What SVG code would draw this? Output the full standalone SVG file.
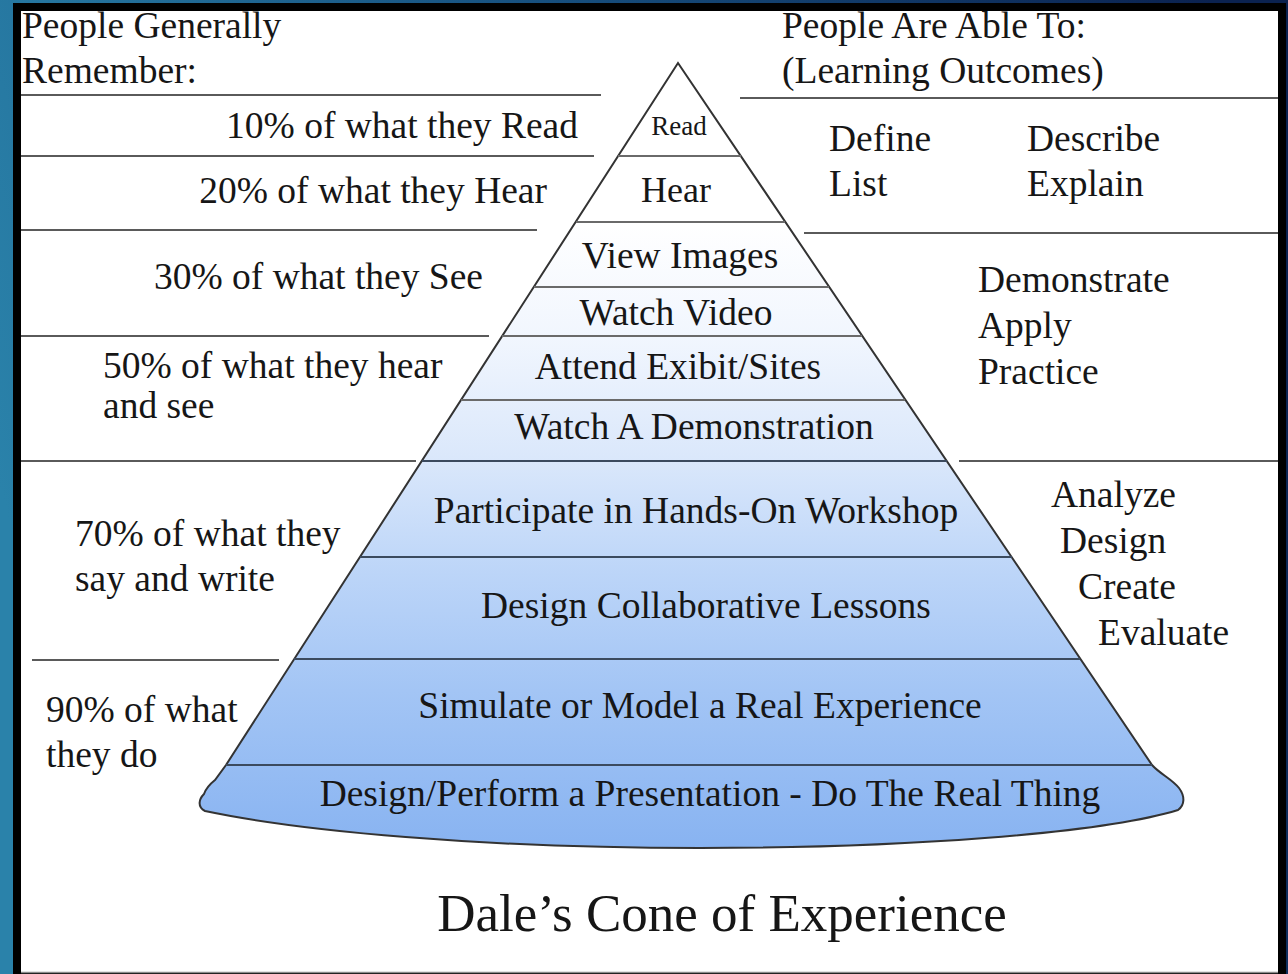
<svg xmlns="http://www.w3.org/2000/svg" width="1288" height="974" viewBox="0 0 1288 974">
  <defs>
    <linearGradient id="bg" x1="0" y1="0.5" x2="1" y2="0.3">
      <stop offset="0" stop-color="#2a82aa"/>
      <stop offset="0.5" stop-color="#17507f"/>
      <stop offset="1" stop-color="#0b2250"/>
    </linearGradient>
    <linearGradient id="cone" x1="0" y1="63" x2="0" y2="848" gradientUnits="userSpaceOnUse">
      <stop offset="0" stop-color="#ffffff"/>
      <stop offset="0.2" stop-color="#ffffff"/>
      <stop offset="0.35" stop-color="#f1f6fe"/>
      <stop offset="0.5" stop-color="#dbe8fb"/>
      <stop offset="0.65" stop-color="#bcd5f8"/>
      <stop offset="0.8" stop-color="#a3c5f5"/>
      <stop offset="1" stop-color="#88b3f1"/>
    </linearGradient>
  </defs>
  <style>
    text { font-family: "Liberation Serif", "Times New Roman", serif; font-size: 37.5px; fill: #161616; }
    .mid { text-anchor: middle; }
    .end { text-anchor: end; }
    .rule { stroke: #5a5a5a; stroke-width: 2.2; fill: none; }
    .div-light { stroke: #6a6a6a; stroke-width: 2; }
    .div-dark { stroke: #3b4a5e; stroke-width: 2.2; }
  </style>

  <!-- background and frame -->
  <rect x="0" y="0" width="1288" height="974" fill="url(#bg)"/>
  <rect x="13" y="3" width="1273" height="971" fill="#000000"/>
  <rect x="21" y="11" width="1257" height="961" fill="#ffffff"/>
  <line x1="21" y1="972.5" x2="1278" y2="972.5" stroke="#8a8a8a" stroke-width="1.5"/>

  <!-- cone body -->
  <g id="cone-shape">
    <path d="M 678 63 L 1152 765 C 1160 774 1172 779 1179 788 C 1185 796 1185 805 1178 810 C 1100 834 900 848 700 848 C 480 848 300 831 205 811 C 197 807 199 799 204 794 C 206 788 210 784 215 780 L 226 765 Z" fill="url(#cone)" stroke="#333333" stroke-width="2"/>
  </g>

  <!-- divider rules (connectors) -->
  <g id="connectors">
    <line class="div-light" x1="618" y1="156" x2="741" y2="156"/>
    <line class="div-light" x1="576" y1="222" x2="785" y2="222"/>
    <line class="div-light" x1="534" y1="287" x2="829" y2="287"/>
    <line class="div-light" x1="502" y1="336" x2="862" y2="336"/>
    <line class="div-light" x1="461" y1="400" x2="905" y2="400"/>
    <line class="div-dark" x1="422" y1="461" x2="947" y2="461"/>
    <line class="div-dark" x1="360" y1="557" x2="1012" y2="557"/>
    <line class="div-dark" x1="294" y1="659" x2="1080" y2="659"/>
    <line class="div-dark" x1="226" y1="765" x2="1152" y2="765"/>

    <line class="rule" x1="21" y1="95" x2="601" y2="95"/>
    <line class="rule" x1="21" y1="156" x2="594" y2="156"/>
    <line class="rule" x1="21" y1="230" x2="537" y2="230"/>
    <line class="rule" x1="21" y1="336" x2="489" y2="336"/>
    <line class="rule" x1="21" y1="461" x2="416" y2="461"/>
    <line class="rule" x1="32" y1="660" x2="279" y2="660"/>

    <line class="rule" x1="740" y1="98" x2="1278" y2="98"/>
    <line class="rule" x1="804" y1="233" x2="1278" y2="233"/>
    <line class="rule" x1="959" y1="461" x2="1278" y2="461"/>
  </g>

  <!-- cone layers -->
  <g id="layer-read"><text class="mid" x="679" y="135" style="font-size:27px">Read</text></g>
  <g id="layer-hear"><text class="mid" x="676" y="202" style="font-size:36px">Hear</text></g>
  <g id="layer-view-images"><text class="mid" x="680" y="268">View Images</text></g>
  <g id="layer-watch-video"><text class="mid" x="676" y="325">Watch Video</text></g>
  <g id="layer-attend"><text class="mid" x="678" y="379">Attend Exibit/Sites</text></g>
  <g id="layer-demonstration"><text class="mid" x="694" y="439">Watch A Demonstration</text></g>
  <g id="layer-workshop"><text class="mid" x="696" y="523">Participate in Hands-On Workshop</text></g>
  <g id="layer-lessons"><text class="mid" x="706" y="618">Design Collaborative Lessons</text></g>
  <g id="layer-simulate"><text class="mid" x="700" y="718">Simulate or Model a Real Experience</text></g>
  <g id="layer-real-thing"><text class="mid" x="710" y="806">Design/Perform a Presentation - Do The Real Thing</text></g>

  <!-- left column -->
  <g id="header-left">
    <text x="22" y="38">People Generally</text>
    <text x="22" y="83">Remember:</text>
  </g>
  <g id="remember-10"><text class="end" x="578" y="138">10% of what they Read</text></g>
  <g id="remember-20"><text class="end" x="547" y="203">20% of what they Hear</text></g>
  <g id="remember-30"><text class="end" x="483" y="289">30% of what they See</text></g>
  <g id="remember-50">
    <text x="103" y="378">50% of what they hear</text>
    <text x="103" y="418">and see</text>
  </g>
  <g id="remember-70">
    <text x="75" y="546">70% of what they</text>
    <text x="75" y="591">say and write</text>
  </g>
  <g id="remember-90">
    <text x="46" y="722">90% of what</text>
    <text x="46" y="767">they do</text>
  </g>

  <!-- right column -->
  <g id="header-right">
    <text x="782" y="38">People Are Able To:</text>
    <text x="782" y="83">(Learning Outcomes)</text>
  </g>
  <g id="outcomes-1">
    <text x="829" y="151">Define</text>
    <text x="829" y="196">List</text>
    <text x="1027" y="151">Describe</text>
    <text x="1027" y="196">Explain</text>
  </g>
  <g id="outcomes-2">
    <text x="978" y="292">Demonstrate</text>
    <text x="978" y="338">Apply</text>
    <text x="978" y="384">Practice</text>
  </g>
  <g id="outcomes-3">
    <text x="1051" y="507">Analyze</text>
    <text x="1060" y="553">Design</text>
    <text x="1078" y="599">Create</text>
    <text x="1098" y="645">Evaluate</text>
  </g>

  <!-- title -->
  <g id="title"><text class="mid" x="722" y="931" style="font-size:53px">Dale’s Cone of Experience</text></g>
</svg>
